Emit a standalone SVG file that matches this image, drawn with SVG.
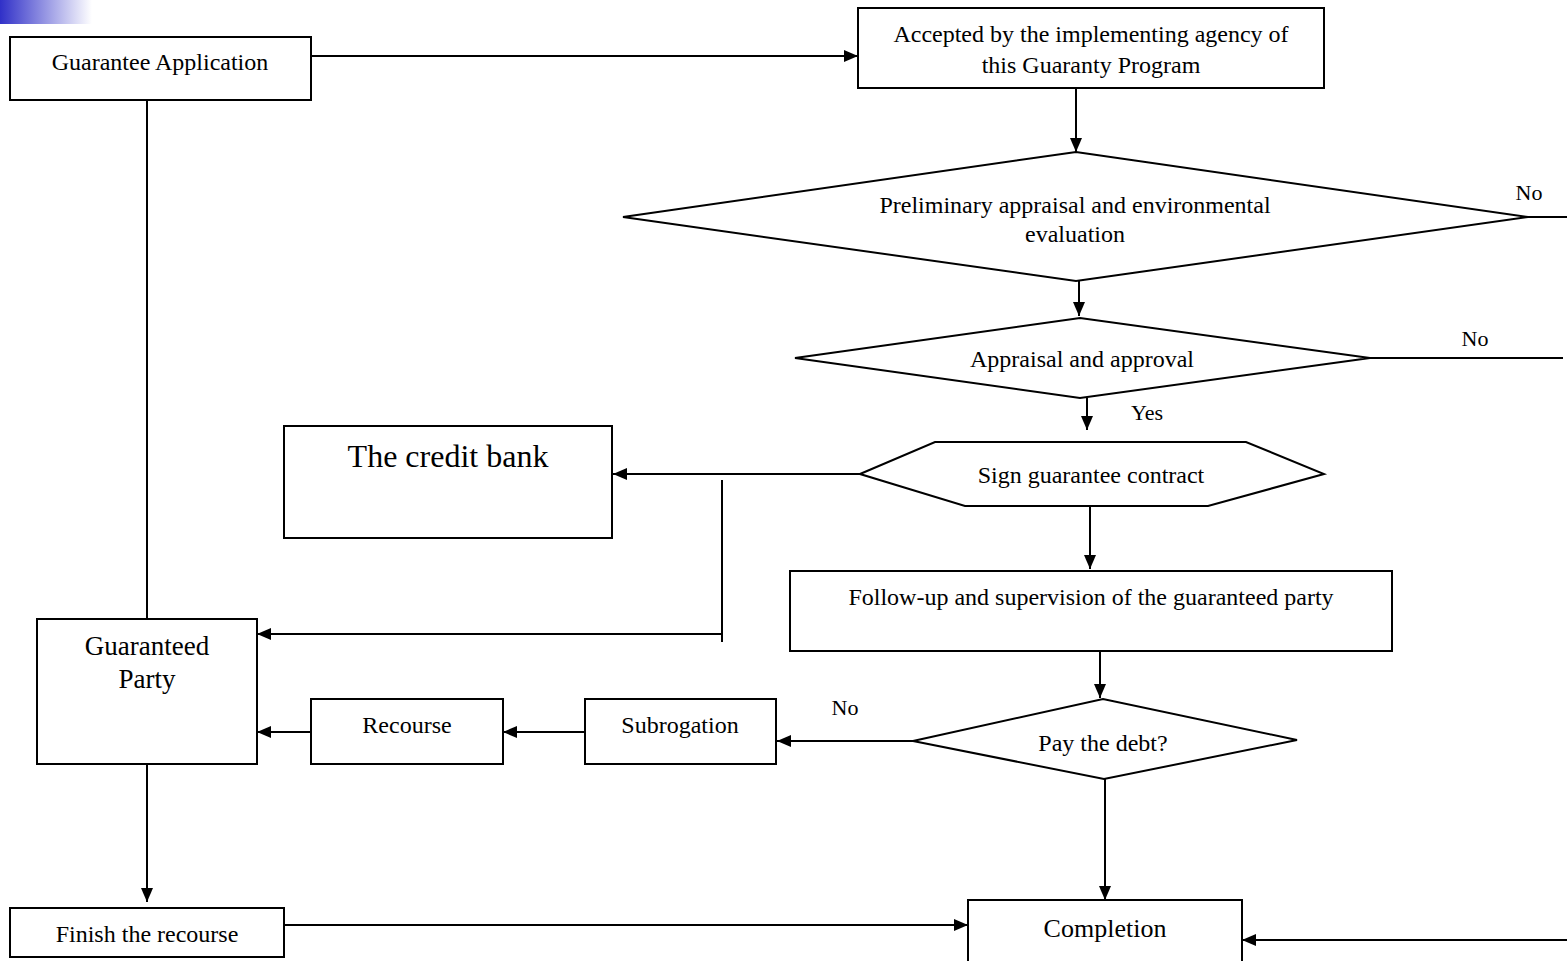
<svg xmlns="http://www.w3.org/2000/svg" width="1567" height="961" viewBox="0 0 1567 961">
<style>
.b{fill:#fff;stroke:#000;stroke-width:2}
.l{fill:none;stroke:#000;stroke-width:2}
.a{fill:none;stroke:#000;stroke-width:2;marker-end:url(#ah)}
text{font-family:"Liberation Serif","Times New Roman",serif;fill:#000;text-anchor:middle}
.t{font-size:24px}
.m{font-size:27px}
.s{font-size:22px}
</style>
<defs>
<marker id="ah" viewBox="0 0 14 12" refX="14" refY="6" markerWidth="14" markerHeight="12" markerUnits="userSpaceOnUse" orient="auto"><path d="M0,0L14,6L0,12Z" fill="#000"/></marker>
<linearGradient id="g" x1="0" y1="0" x2="1" y2="0"><stop offset="0" stop-color="#3030c8"/><stop offset="1" stop-color="#fff"/></linearGradient>
</defs>
<rect x="0" y="0" width="92" height="24" fill="url(#g)"/>
<g id="connectors">
<path class="a" d="M311,56H858"/>
<path class="a" d="M1076,88V152"/>
<path class="l" d="M1528,217H1567"/>
<path class="a" d="M1079,281V316"/>
<path class="l" d="M1370,358H1563"/>
<path class="a" d="M1087,398V430"/>
<path class="a" d="M860,474H613"/>
<path class="l" d="M722,480V642"/>
<path class="a" d="M722,634H257"/>
<path class="a" d="M1090,506V569"/>
<path class="a" d="M1100,651V698"/>
<path class="a" d="M913,741H777"/>
<path class="a" d="M585,732H503"/>
<path class="a" d="M311,732H257"/>
<path class="l" d="M147,100V619"/>
<path class="a" d="M147,764V902"/>
<path class="a" d="M284,925H968"/>
<path class="a" d="M1105,779V900"/>
<path class="a" d="M1567,940H1242"/>
<text class="s" x="1529" y="200">No</text>
<text class="s" x="1475" y="346">No</text>
<text class="s" x="1147" y="420">Yes</text>
<text class="s" x="845" y="715">No</text>
</g>
<g id="n-app"><rect class="b" x="10" y="37" width="301" height="63"/><text class="t" x="160" y="70">Guarantee Application</text></g>
<g id="n-accepted"><rect class="b" x="858" y="8" width="466" height="80"/><text class="t" x="1091" y="42">Accepted by the implementing agency of</text><text class="t" x="1091" y="73">this Guaranty Program</text></g>
<g id="n-prelim"><polygon class="b" points="623,217 1076,152 1528,217 1076,281"/><text class="t" x="1075" y="213">Preliminary appraisal and environmental</text><text class="t" x="1075" y="242">evaluation</text></g>
<g id="n-approval"><polygon class="b" points="795,358 1080,318 1370,358 1080,398"/><text class="t" x="1082" y="367">Appraisal and approval</text></g>
<g id="n-sign"><polygon class="b" points="860,474 935,442 1246,442 1324,474 1208,506 965,506"/><text class="t" x="1091" y="483">Sign guarantee contract</text></g>
<g id="n-bank"><rect class="b" x="284" y="426" width="328" height="112"/><text x="448" y="467" style="font-size:32px">The credit bank</text></g>
<g id="n-follow"><rect class="b" x="790" y="571" width="602" height="80"/><text class="t" x="1091" y="605">Follow-up and supervision of the guaranteed party</text></g>
<g id="n-pay"><polygon class="b" points="913,741 1103,699 1297,740 1104,779"/><text class="t" x="1103" y="751">Pay the debt?</text></g>
<g id="n-subrogation"><rect class="b" x="585" y="699" width="191" height="65"/><text class="t" x="680" y="733">Subrogation</text></g>
<g id="n-recourse"><rect class="b" x="311" y="699" width="192" height="65"/><text class="t" x="407" y="733">Recourse</text></g>
<g id="n-party"><rect class="b" x="37" y="619" width="220" height="145"/><text class="m" x="147" y="655">Guaranteed</text><text class="m" x="147" y="688">Party</text></g>
<g id="n-finish"><rect class="b" x="10" y="908" width="274" height="49"/><text class="t" x="147" y="942">Finish the recourse</text></g>
<g id="n-completion"><rect class="b" x="968" y="900" width="274" height="70"/><text x="1105" y="937" style="font-size:26px">Completion</text></g>
</svg>
